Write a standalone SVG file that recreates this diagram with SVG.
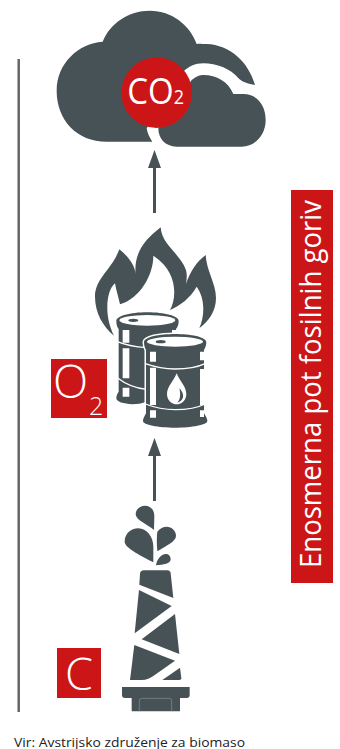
<svg xmlns="http://www.w3.org/2000/svg" width="340" height="749" viewBox="0 0 340 749">
<style>
.d{fill:#475256}
.r{fill:#cc1517}
.w{fill:#fff}
.l{fill:none;stroke:#fff;stroke-width:4}
.a{stroke:#475256;stroke-width:3;marker-end:url(#ah)}
text{font-family:"Open Sans","Liberation Sans",sans-serif}
.t{fill:#fff;font-weight:300}
.t4{fill:#fff;font-weight:400}
</style>
<defs>
<marker id="ah" markerUnits="userSpaceOnUse" markerWidth="18" markerHeight="13" refX="8" refY="6.5" orient="auto"><path d="M0 0L18 6.5L0 13Z" class="d"/></marker>
</defs>
<rect width="340" height="749" fill="#fff"/>
<line x1="18.7" y1="59" x2="18.7" y2="712" stroke="#666" stroke-width="2.5"/>
<g id="connectors">
<line class="a" x1="154.5" y1="213" x2="154.5" y2="160"/>
<line class="a" x1="154.5" y1="501" x2="154.5" y2="448"/>
</g>
<g id="cloud" transform="translate(40 0) scale(.33333)">
<path class="d" d="M337 425L200 425C110 425 50 360 50 272C50 190 115 130 188 125C210 70 265 32 330 32C395 32 450 75 470 132C480 130 490 132 500 132C570 135 625 185 645 255C625 250 610 248 597 236C570 205 530 190 490 190C465 190 445 200 430 215L320 385C322 400 330 415 337 425Z"/>
<path class="d" d="M410 440C375 440 355 415 355 385L455 240C470 228 480 225 490 225C530 225 565 245 580 282L610 282C650 282 677 315 677 360C677 405 645 440 605 440Z"/>
<circle class="r" cx="350" cy="278" r="106"/>
<text class="w" transform="translate(262 312) scale(.9 1)" font-size="110">CO<tspan font-size="60">2</tspan></text>
</g>
<g id="fire" transform="translate(40 215) scale(.33333)">
<path class="d" d="M222 362C190 335 165 295 165 245C165 190 215 165 238 103C265 125 285 150 287 178C280 110 320 70 362 37C365 90 420 115 438 165C442 180 440 195 438 207C450 170 470 140 497 120C500 170 528 205 528 250C528 290 505 320 478 340C495 300 495 250 470 215C450 250 420 272 390 285C410 250 415 170 340 122C340 180 300 250 240 268C235 245 228 225 225 205C200 225 190 300 222 362Z"/>
<path class="d" stroke="#fff" stroke-width="7" paint-order="stroke" d="M229 318C229 303 270 292 322 292C374 292 416 303 416 318C416 330 412 338 408 342V560H320C280 575 229 565 229 550C229 540 233 535 236 530V342C232 338 229 330 229 318Z"/>
<ellipse class="w" cx="322" cy="316" rx="84" ry="16"/>
<ellipse class="d" cx="280" cy="316" rx="15" ry="5"/>
<path class="w" d="M248 345H268V383H248ZM248 400H268V490H248ZM248 518H268V545H248ZM396 345H408V358H396Z"/>
<path class="l" d="M232 380C260 392 290 396 320 398M232 488C260 510 290 520 320 523"/>
<path class="d" stroke="#fff" stroke-width="9" paint-order="stroke" d="M312 382C312 365 360 357 405 357C450 357 499 365 499 382C499 392 495 400 492 405V595C498 605 502 612 502 618C502 630 455 638 405 638C355 638 309 630 309 618C309 612 313 605 318 595V405C315 400 312 392 312 382Z"/>
<ellipse class="w" cx="405" cy="380" rx="84" ry="15"/>
<ellipse class="d" cx="362" cy="380" rx="15" ry="5"/>
<path class="w" d="M330 410H348V440H330ZM330 458H348V570H330ZM330 586H348V608H330ZM480 410H492V436H480ZM480 462H492V570H480ZM480 586H492V606H480Z"/>
<path class="l" d="M316 446C350 458 390 462 405 462C430 462 470 458 495 446M316 567C350 580 390 584 405 584C430 584 470 580 495 567"/>
<path class="w" d="M410 475C420 500 439 515 439 537C439 556 425 568 410 568C395 568 381 556 381 537C381 515 400 500 410 475Z"/>
<path class="d" d="M418 520C428 530 434 545 425 555C420 560 417 562 412 563C420 555 423 540 418 520Z"/>
</g>
<g id="derrick" transform="translate(40 430) scale(.33333)">
<path class="d" d="M342 300C325 285 287 270 287 253C287 238 300 227 315 227C332 227 343 240 343 258Z"/>
<path class="d" d="M340 397C310 380 254 355 254 335C254 312 272 295 295 295C320 295 340 320 340 350Z"/>
<path class="d" d="M352 364C350 340 350 320 352 305C360 295 370 290 380 290C395 290 408 303 408 317C408 335 380 345 352 364Z"/>
<path class="d" d="M348 406C350 390 362 372 378 372C387 372 392 380 392 388C392 402 370 404 348 406Z"/>
<path class="d" d="M300 432C300 425 305 421 312 421H382C388 421 392 425 392 430L400 504L298 464Z"/>
<path class="d" d="M297 480L395 528L284 610Z"/>
<path class="d" d="M405 552L418 672L305 628Z"/>
<path class="d" d="M283 645L405 692L340 738C330 745 320 750 305 750H270Z"/>
<path class="d" d="M420 713L424 745Q424 750 418 750H367Z"/>
<path class="d" d="M246 771H449V795Q449 804 440 804H420V844H275V804H255Q246 804 246 795Z"/>
<path d="M298 844V812Q298 805 305 805H388Q395 805 395 812V844" fill="none" stroke="#8a9396" stroke-width="2"/>
</g>
<g id="o2">
<rect class="r" x="51" y="359" width="56" height="59"/>
<text class="t" x="53" y="398" font-size="46">O</text>
<text class="t" x="89" y="415" font-size="25">2</text>
</g>
<g id="c">
<rect class="r" x="57" y="648" width="44" height="50"/>
<text class="t" x="65" y="690" font-size="45" textLength="28" lengthAdjust="spacingAndGlyphs">C</text>
</g>
<g id="label">
<rect class="r" x="291" y="190" width="42" height="393"/>
<text class="t4" transform="translate(320.7 568) rotate(-90)" font-size="29" textLength="368" lengthAdjust="spacingAndGlyphs">Enosmerna pot fosilnih goriv</text>
</g>
<text x="14" y="746.5" font-size="13.5" fill="#222" textLength="231" lengthAdjust="spacingAndGlyphs">Vir: Avstrijsko združenje za biomaso</text>
</svg>
